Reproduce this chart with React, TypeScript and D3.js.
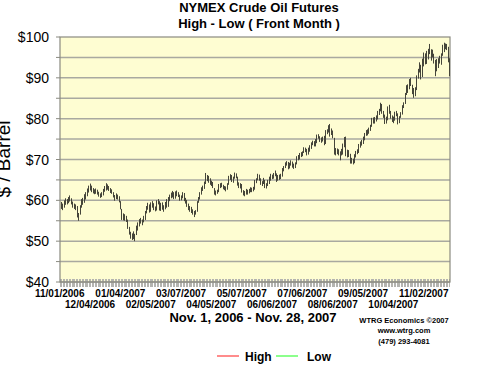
import React from "react";
import * as d3 from "d3";

const holidays = ["2006-11-23","2006-11-24","2006-12-25","2007-01-01","2007-01-15","2007-02-19","2007-04-06","2007-05-28","2007-07-04","2007-09-03","2007-11-22"];
const fmtKey = d3.timeFormat("%Y-%m-%d");
const fmtLabel = d3.timeFormat("%m/%d/%Y");
const tradingDays = d3.timeDay
  .range(new Date(2006, 10, 1), new Date(2007, 10, 29))
  .filter((d) => d.getDay() !== 0 && d.getDay() !== 6 && !holidays.includes(fmtKey(d)))
  .map((d) => fmtLabel(d));

const tickLabels = ["11/01/2006","12/04/2006","01/04/2007","02/05/2007","03/07/2007","04/05/2007","05/07/2007","06/06/2007","07/06/2007","08/06/2007","09/05/2007","10/04/2007","11/02/2007"];
const yTicks = [40, 50, 60, 70, 80, 90, 100];

const highs = [
  59.6,59.2,60.0,60.5,60.3,60.8,61.2,60.5,59.7,59.2,59.0,58.6,56.9,58.8,60.3,60.6,61.5,62.0,62.9,63.6,
  64.1,63.6,63.0,62.7,62.9,62.6,62.1,61.7,62.0,62.8,63.5,64.2,63.9,63.5,63.0,62.7,62.0,61.3,61.7,61.4,
  61.0,59.8,57.9,56.8,56.6,56.2,55.3,53.5,52.3,51.9,52.4,51.8,53.8,54.6,55.4,55.7,55.3,56.2,57.4,58.6,59.4,
  59.0,59.5,59.8,59.3,58.5,60.0,60.3,59.8,59.4,59.5,58.8,59.6,60.3,60.8,61.4,61.9,62.3,62.0,62.2,
  62.4,62.0,61.4,61.2,62.0,61.8,60.6,60.1,59.2,58.6,58.4,57.8,57.4,57.6,59.8,60.8,62.0,63.2,63.6,64.6,66.7,66.2,
  66.0,65.4,64.8,64.5,63.0,62.4,62.6,64.0,64.2,64.3,63.8,63.5,63.4,64.2,66.0,66.4,66.2,65.8,66.8,66.6,
  65.8,64.4,64.2,64.0,62.5,62.3,62.8,62.6,62.8,63.2,63.1,63.3,65.0,65.4,66.5,66.3,65.4,64.7,65.5,65.0,64.2,65.0,
  65.8,66.5,66.3,66.7,67.3,66.6,66.2,66.3,66.5,67.9,68.4,69.3,69.6,69.4,69.2,69.8,69.5,69.0,69.3,70.8,71.1,
  71.6,71.8,72.0,73.0,72.9,72.6,72.9,73.5,74.2,74.6,74.5,75.0,76.1,76.2,75.7,75.4,75.6,75.8,77.2,77.4,78.4,
  78.7,77.6,77.1,75.3,72.8,72.7,72.5,72.0,72.6,73.9,75.5,75.6,72.4,72.3,71.4,70.4,70.2,71.3,72.1,72.5,73.8,74.4,74.8,
  75.6,76.5,77.2,77.4,77.8,78.5,80.2,80.3,80.4,80.8,81.9,82.4,83.9,83.6,81.9,81.0,80.5,83.0,83.4,
  81.9,80.8,80.5,81.7,81.9,81.3,80.6,81.6,83.3,84.0,86.3,88.2,88.4,89.7,90.0,88.3,87.5,87.7,90.6,92.2,93.8,93.2,94.7,
  96.2,96.0,96.6,97.1,98.3,97.0,96.9,95.9,94.4,94.6,94.8,95.4,96.0,98.1,98.6,98.4,98.3,97.6,94.8,
];
const lows = [
  57.9,57.6,58.2,58.9,59.0,59.3,59.7,59.0,58.2,57.9,57.6,55.8,55.0,56.5,58.2,58.9,59.4,60.2,61.0,61.9,
  62.4,62.0,61.7,61.5,61.6,61.4,60.9,60.6,60.8,61.2,62.1,62.4,62.6,62.3,61.8,61.6,60.7,59.9,60.3,60.2,
  59.5,57.8,55.2,55.1,55.0,54.7,53.0,51.6,50.6,50.3,50.5,50.0,51.5,52.6,53.6,54.3,53.9,54.6,55.2,56.8,57.7,
  57.0,57.2,58.2,57.6,57.3,57.5,59.0,57.5,57.4,57.7,57.2,57.8,58.2,58.4,59.8,60.5,60.7,60.3,60.4,
  61.0,60.8,59.9,60.0,60.5,59.8,59.2,58.4,57.6,57.2,56.9,56.5,55.9,56.5,57.2,59.4,60.2,61.4,62.3,62.8,64.0,64.7,
  64.3,63.8,63.5,63.0,61.4,61.2,61.6,62.0,63.0,63.2,62.7,62.5,62.2,62.6,63.8,65.0,64.5,64.3,65.3,65.4,
  63.6,63.0,62.9,61.9,61.2,61.0,61.4,61.4,61.7,62.0,62.0,62.2,62.6,64.2,64.9,64.8,63.8,63.5,64.0,63.0,62.9,63.5,
  64.0,64.8,65.2,65.3,65.9,64.5,64.8,65.0,65.2,65.8,67.1,67.9,68.5,67.6,67.8,68.5,68.0,67.7,67.9,68.8,69.8,
  70.0,70.6,70.8,71.6,71.8,71.0,71.2,71.9,72.6,73.5,73.2,73.2,74.0,75.1,74.3,74.1,74.4,73.5,73.8,76.2,76.6,
  75.6,76.0,75.2,71.2,71.0,71.3,71.0,69.8,71.0,71.2,73.0,70.8,70.5,70.6,69.0,69.0,68.8,69.1,70.5,71.3,71.6,72.9,73.4,
  73.8,74.7,75.8,75.9,76.3,77.0,78.0,78.8,78.8,79.3,79.8,80.9,81.8,81.2,80.2,78.7,78.8,79.6,81.2,
  80.0,79.2,78.9,79.5,80.6,78.6,78.9,80.2,81.0,82.6,83.6,85.8,86.3,87.2,88.0,86.0,85.1,85.5,87.0,89.8,91.3,89.6,90.2,
  92.8,93.3,93.4,94.5,95.8,94.2,95.0,93.5,90.4,91.6,92.4,93.5,93.2,95.4,96.3,97.0,96.8,93.8,90.4,
];

const FONT = "'Liberation Sans', Arial, Helvetica, sans-serif";

export default function App() {
  const W = 500, H = 375;
  const left = 60, right = 450, top = 37, bottom = 282;
  const x = d3.scaleBand<string>().domain(tradingDays).range([left, right]).padding(0);
  const bw = x.bandwidth();
  const y = d3.scaleLinear().domain([40, 100]).range([bottom, top]);
  const grid = d3.range(45, 100, 5);
  const minor = d3.range(40, 101, 5);

  return (
    <svg width={W} height={H} style={{ position: "absolute", left: 0, top: 0, display: "block" }} fontFamily={FONT}>
      <rect x={0} y={0} width={W} height={H} fill="#ffffff" />
      <text x={259} y={11.5} textAnchor="middle" fontSize={13} fontWeight="bold">NYMEX Crude Oil Futures</text>
      <text x={259} y={28} textAnchor="middle" fontSize={13} fontWeight="bold">High - Low ( Front Month )</text>

      <rect x={left} y={top} width={right - left} height={bottom - top} fill="#fefdd2" />
      {grid.map((v) => (
        <line key={"g" + v} x1={left} x2={right} y1={y(v)} y2={y(v)} stroke="#a9a9a0" strokeWidth={1.5} />
      ))}
      {/* category ticks band */}
      {tradingDays.map((d, i) => (
        <line key={"t" + i} x1={Math.round(x(d)!) + 0.5} x2={Math.round(x(d)!) + 0.5} y1={bottom - 3} y2={bottom + 5} stroke="#b4b4b0" strokeWidth={1} />
      ))}
      <line x1={left} x2={right} y1={bottom} y2={bottom} stroke="#a0a09a" strokeWidth={1.5} />
      <rect x={left} y={top} width={right - left} height={bottom - top} fill="none" stroke="#8a8a80" strokeWidth={1.2} />
      {minor.map((v) => (
        <line key={"m" + v} x1={left - 4} x2={left} y1={y(v)} y2={y(v)} stroke="#8a8a80" strokeWidth={1} />
      ))}
      {yTicks.map((v) => (
        <text key={"yl" + v} x={49} y={y(v) + 5} textAnchor="end" fontSize={14}>{"$" + v}</text>
      ))}

      {tradingDays.map((d, i) => {
        const cx = Math.round(x(d)! + bw / 2) + 0.5;
        return (
          <line key={"b" + i} x1={cx} x2={cx} y1={y(highs[i])} y2={y(lows[i])} stroke="#45453a" strokeWidth={1} />
        );
      })}

      {tickLabels.map((lab, k) => {
        const cx = x(lab)! + bw / 2;
        return (
          <text key={"xl" + k} x={cx - 1} y={k % 2 === 0 ? 297 : 308} textAnchor="middle" fontSize={10} fontWeight="bold">{lab}</text>
        );
      })}

      <text transform={`translate(10,159) rotate(-90)`} textAnchor="middle" fontSize={19}>$ / Barrel</text>

      <text x={253} y={322} textAnchor="middle" fontSize={13} fontWeight="bold">Nov. 1, 2006 - Nov. 28, 2007</text>
      <text x={404} y={323} textAnchor="middle" fontSize={7.5} fontWeight="bold">WTRG Economics  ©2007</text>
      <text x={404} y={333} textAnchor="middle" fontSize={7.5} fontWeight="bold">www.wtrg.com</text>
      <text x={404} y={344} textAnchor="middle" fontSize={7.5} fontWeight="bold">(479) 293-4081</text>

      <line x1={217} x2={239} y1={356} y2={356} stroke="#ff4040" strokeWidth={1.2} />
      <text x={245} y={360.5} fontSize={12} fontWeight="bold">High</text>
      <line x1={276} x2={298} y1={356} y2={356} stroke="#40ff40" strokeWidth={1.2} />
      <text x={307} y={360.5} fontSize={12} fontWeight="bold">Low</text>
    </svg>
  );
}
